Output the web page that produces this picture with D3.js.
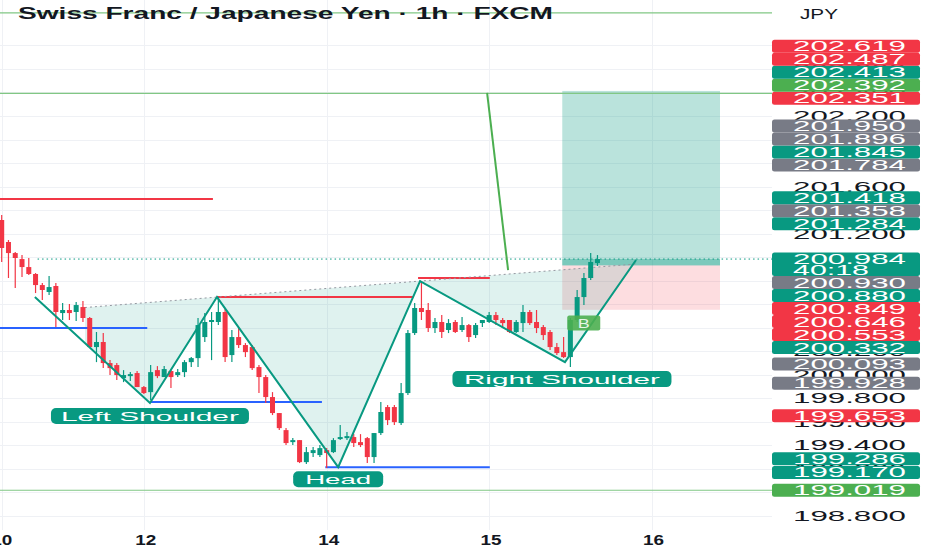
<!DOCTYPE html>
<html><head><meta charset="utf-8">
<script src="https://cdn.jsdelivr.net/npm/d3@7/dist/d3.min.js"></script>
<style>body{margin:0;background:#fff}svg{display:block}text{font-family:"Liberation Sans",Arial,sans-serif}</style>
</head><body><svg id="c" width="932" height="550"></svg>
<script>
// ---------- DATA ----------
const title = "Swiss Franc / Japanese Yen · 1h · FXCM";
const currency = "JPY";
// candles: [open, high, low, close]
const candles = [
[201.316,201.358,200.959,201.078],[201.129,201.146,200.823,201.035],[201.035,201.044,200.738,200.993],
[200.984,201.018,200.831,200.916],[200.916,200.993,200.848,200.857],[200.857,200.865,200.695,200.763],
[200.763,200.780,200.636,200.721],[200.704,200.840,200.678,200.746],[200.755,200.780,200.406,200.534],
[200.525,200.610,200.466,200.551],[200.551,200.602,200.466,200.525],[200.534,200.619,200.457,200.593],
[200.576,200.627,200.449,200.483],[200.483,200.491,200.227,200.236],[200.236,200.364,200.108,200.279],
[200.279,200.355,200.057,200.100],[200.100,200.125,199.998,200.057],[200.083,200.100,199.955,199.998],
[199.972,200.040,199.938,199.998],[199.989,200.023,199.947,200.006],[200.015,200.032,199.896,199.896],
[199.896,199.904,199.836,199.845],[199.853,200.083,199.785,200.023],[200.040,200.074,199.972,199.989],
[199.981,200.074,199.981,200.049],[200.032,200.049,199.887,199.981],[199.998,200.049,199.981,200.023],
[200.023,200.125,199.981,200.108],[200.108,200.151,200.066,200.142],[200.142,200.483,200.066,200.423],
[200.321,200.525,200.279,200.449],[200.449,200.534,200.125,200.466],[200.449,200.661,200.423,200.534],
[200.534,200.559,200.108,200.151],[200.168,200.381,200.108,200.321],[200.321,200.398,200.227,200.253],
[200.253,200.270,200.151,200.193],[200.236,200.253,200.040,200.057],[200.066,200.083,199.845,199.981],
[199.981,199.998,199.760,199.811],[199.811,199.853,199.658,199.675],[199.675,199.675,199.530,199.547],
[199.530,199.547,199.403,199.420],[199.428,199.462,199.403,199.445],[199.445,199.445,199.250,199.258],
[199.258,199.386,199.241,199.343],[199.335,199.386,199.301,199.360],[199.318,199.403,199.301,199.377],
[199.360,199.377,199.207,199.335],[199.343,199.462,199.335,199.445],[199.454,199.573,199.445,199.471],
[199.462,199.513,199.445,199.479],[199.471,199.496,199.386,199.420],[199.428,199.496,199.386,199.403],
[199.462,199.471,199.250,199.301],[199.301,199.505,199.250,199.505],[199.505,199.768,199.488,199.684],
[199.726,199.743,199.573,199.615],[199.726,199.743,199.573,199.598],[199.590,199.930,199.573,199.845],
[199.845,200.381,199.828,200.355],[200.355,200.610,200.338,200.568],[200.568,200.797,200.466,200.534],
[200.551,200.610,200.364,200.398],[200.398,200.483,200.355,200.449],[200.449,200.508,200.313,200.364],
[200.381,200.474,200.355,200.440],[200.449,200.466,200.355,200.364],[200.381,200.491,200.364,200.423],
[200.423,200.432,200.279,200.321],[200.338,200.440,200.313,200.423],[200.440,200.466,200.406,200.466],
[200.449,200.534,200.440,200.508],[200.508,200.534,200.423,200.466],[200.466,200.483,200.406,200.440],
[200.466,200.466,200.355,200.364],[200.364,200.466,200.355,200.449],[200.440,200.593,200.364,200.534],
[200.534,200.551,200.423,200.440],[200.449,200.551,200.355,200.398],[200.406,200.423,200.296,200.338],
[200.364,200.381,200.210,200.236],[200.236,200.270,200.168,200.185],[200.193,200.321,200.142,200.151],
[200.151,200.483,200.066,200.466],[200.466,200.721,200.449,200.661],[200.661,200.865,200.593,200.823],
[200.823,201.035,200.806,200.959],[200.950,201.018,200.925,200.984]
];
const xTickIdx = [0, 21, 48, 72, 96];
const xTickLabels = ["10", "12", "14", "15", "16"];
const priceTickValues = [198.8,199.0,199.2,199.4,199.6,199.8,200.0,200.2,200.4,200.6,200.8,201.0,201.2,201.4,201.6,201.8,202.0,202.2,202.4,202.6,202.8];
const currentPrice = 200.984;
const countdown = "40:18";
const badgeValues = [202.619,202.487,202.413,202.392,202.351,201.950,201.896,201.845,201.784,201.418,201.358,201.284,
                     200.930,200.880,200.849,200.646,200.553,200.332,200.093,199.928,199.653,199.286,199.170,199.019];
const badgeKinds  = ["red","red","teal","lime","red","gray","gray","teal","gray","teal","gray","teal",
                     "gray","teal","red","red","red","teal","gray","gray","red","teal","teal","lime"];
// horizontal drawn levels: [price, fromIdx, toIdx, kind]
const levelLines = [
  [203.076, -1, 113.8, "lime"], [202.392, -1, 113.8, "lime"], [199.019, -1, 113.8, "lime"],
  [201.494, -1, 31.2, "red"], [200.661, 31.8, 60.8, "red"], [200.822, 61.5, 72.1, "red"],
  [200.397, -1, 21.5, "blue"], [199.768, 21.9, 47.3, "blue"], [199.215, 47.8, 72.1, "blue"]
];
// inverse head & shoulders: start, LS, neck1, head, neck2, RS, end
const hsIdx   = [4.9, 21.9, 31.8, 49.7, 61.8, 83.2, 93.7];
const hsPrice = [200.661, 199.760, 200.661, 199.215, 200.797, 200.108, 200.976];
const necklineIdx = [12.3, 93.7];
const necklinePrice = [200.572, 200.942];
const hsLabels = ["Left Shoulder", "Head", "Right Shoulder"];
// long position
const longEntry = 200.930, longTarget = 202.413, longStop = 200.553;
const longIdx = [82.8, 106.1];
// green trend line
const trendIdx = [71.7, 74.8];
const trendPrice = [202.396, 200.890];
const bMarkIdx = 85.9, bMarkPrice = 200.440;

// ---------- DRAW ----------
const svg = d3.select("#c");
const W = 932, H = 550, plotR = 772;
const x = d3.scaleLinear().domain([0, 100]).range([1.7, 678.7]);
const y = d3.scaleLinear().domain([198.8, 202.2]).range([516, 116]);
const C = {red:"#f23645", teal:"#089981", gray:"#787b86", lime:"#4caf50", blue:"#2962ff"};

svg.append("defs").append("clipPath").attr("id","plot").append("rect")
  .attr("x",0).attr("y",0).attr("width",plotR).attr("height",H);
const g = svg.append("g").attr("clip-path","url(#plot)");

// grid
g.selectAll(".hg").data(priceTickValues).enter().append("line")
  .attr("x1",0).attr("x2",plotR).attr("y1",d=>Math.round(y(d))+0.5).attr("y2",d=>Math.round(y(d))+0.5)
  .attr("stroke","#eff1f5").attr("stroke-width",1);
g.selectAll(".vg").data(xTickIdx).enter().append("line")
  .attr("x1",d=>Math.round(x(d))+0.5).attr("x2",d=>Math.round(x(d))+0.5).attr("y1",0).attr("y2",530)
  .attr("stroke","#eff1f5").attr("stroke-width",1);

// long position boxes
const lx0 = x(longIdx[0]), lx1 = x(longIdx[1]);
g.append("rect").attr("x",lx0).attr("width",lx1-lx0).attr("y",y(longTarget)).attr("height",y(longEntry)-y(longTarget))
  .attr("fill","rgba(8,153,129,0.28)");
g.append("rect").attr("x",lx0).attr("width",lx1-lx0).attr("y",y(currentPrice)).attr("height",y(longEntry)-y(currentPrice))
  .attr("fill","rgba(8,153,129,0.35)");
g.append("rect").attr("x",lx0).attr("width",lx1-lx0).attr("y",y(longEntry)).attr("height",y(longStop)-y(longEntry))
  .attr("fill","rgba(242,54,69,0.17)");

// H&S fills
const P = i => [x(hsIdx[i]), y(hsPrice[i])];
const neckAt = idx => necklinePrice[0] + (idx-necklineIdx[0])/(necklineIdx[1]-necklineIdx[0])*(necklinePrice[1]-necklinePrice[0]);
const segAt = (i, idx) => hsPrice[i] + (idx-hsIdx[i])/(hsIdx[i+1]-hsIdx[i])*(hsPrice[i+1]-hsPrice[i]);
const fillPolys = [
  [[x(necklineIdx[0]), y(neckAt(necklineIdx[0]))], [x(necklineIdx[0]), y(segAt(0,necklineIdx[0]))], P(1), P(2)],
  [P(2), P(3), P(4)],
  [P(4), P(5), P(6), [x(necklineIdx[1]), y(necklinePrice[1])]]
];
g.selectAll(".hsf").data(fillPolys).enter().append("path")
  .attr("d", d => d3.line()(d) + "Z").attr("fill","rgba(8,153,129,0.13)");

// level lines
levelLines.forEach(([p,a,b,k]) => {
  g.append("line").attr("x1",x(a)).attr("x2",x(b)).attr("y1",y(p)).attr("y2",y(p))
   .attr("stroke", k==="lime" ? "#81c784" : C[k]).attr("stroke-width", k==="lime" ? 1.2 : 2);
});

// neckline dotted
g.append("line").attr("x1",x(necklineIdx[0])).attr("y1",y(necklinePrice[0]))
  .attr("x2",x(necklineIdx[1])).attr("y2",y(necklinePrice[1]))
  .attr("stroke","#9598a1").attr("stroke-width",1).attr("stroke-dasharray","2,3");

// current price dotted
g.append("line").attr("x1",x(5.3)).attr("x2",plotR).attr("y1",y(currentPrice)).attr("y2",y(currentPrice))
  .attr("stroke","#089981").attr("stroke-width",1).attr("stroke-dasharray","1.5,3");

// candles
const cg = g.append("g");
candles.forEach((d,i) => {
  const [o,h,l,c] = d, up = c >= o, col = up ? C.teal : C.red, cx = x(i);
  cg.append("line").attr("x1",cx).attr("x2",cx).attr("y1",y(h)).attr("y2",y(l)).attr("stroke",col).attr("stroke-width",1.2);
  const top = y(Math.max(o,c)), bot = y(Math.min(o,c));
  cg.append("rect").attr("x",cx-2.5).attr("width",5).attr("y",top).attr("height",Math.max(1.2,bot-top)).attr("fill",col);
});

// H&S polyline
g.append("path").attr("d", d3.line()(hsIdx.map((_,i)=>P(i))))
  .attr("fill","none").attr("stroke","#089981").attr("stroke-width",2).attr("stroke-linejoin","miter");

// trend line
g.append("line").attr("x1",x(trendIdx[0])).attr("y1",y(trendPrice[0])).attr("x2",x(trendIdx[1])).attr("y2",y(trendPrice[1]))
  .attr("stroke","#4caf50").attr("stroke-width",2);

// H&S labels
const labelSpecs = [
  {i:1, dy:5, w:198, tl:178}, {i:3, dy:4, w:90, tl:66}, {i:5, dy:9, w:219, tl:196}
];
labelSpecs.forEach((s,k) => {
  const [px,py] = P(s.i);
  const cx = k===2 ? px-3 : px;
  g.append("rect").attr("x",cx-s.w/2).attr("y",py+s.dy).attr("width",s.w).attr("height",16).attr("rx",5)
   .attr("fill","#089981");
  g.append("text").attr("x",cx).attr("y",py+s.dy+12.5).attr("text-anchor","middle")
   .attr("font-size",13).attr("fill","#fff").attr("textLength",s.tl).attr("lengthAdjust","spacingAndGlyphs")
   .text(hsLabels[k]);
});
// B marker
g.append("rect").attr("x",x(bMarkIdx)-16).attr("y",y(bMarkPrice)-7.5).attr("width",33).attr("height",15).attr("rx",2)
  .attr("fill","#4caf50").attr("opacity",0.9);
g.append("text").attr("x",x(bMarkIdx)+0.5).attr("y",y(bMarkPrice)+5).attr("text-anchor","middle")
  .attr("font-size",12).attr("fill","#e8f5e9").attr("textLength",12).attr("lengthAdjust","spacingAndGlyphs").text("B");

// title
svg.append("text").attr("x",18).attr("y",19).attr("font-size",16).attr("font-weight","bold").attr("fill","#131722")
  .attr("textLength",535).attr("lengthAdjust","spacingAndGlyphs").text(title);
svg.append("text").attr("x",800).attr("y",19).attr("font-size",14).attr("fill","#131722")
  .attr("textLength",38).attr("lengthAdjust","spacingAndGlyphs").text(currency);

// x axis labels
svg.selectAll(".xl").data(xTickIdx).enter().append("text")
  .attr("x",d=>x(d)+ (d===0?0:2)).attr("y",545).attr("text-anchor","middle").attr("font-size",15).attr("font-weight","bold")
  .attr("fill","#131722").attr("textLength",21).attr("lengthAdjust","spacingAndGlyphs")
  .text((d,i)=>xTickLabels[i]);

// badges with stacking
const bh = 13;
const curY = y(currentPrice);
const curTop = curY - 6.5, curBot = curY + 17;
const items = badgeValues.map((v,i)=>({v, kind:badgeKinds[i]}));
const above = items.filter(d=>d.v>currentPrice).sort((a,b)=>a.v-b.v);
const below = items.filter(d=>d.v<currentPrice).sort((a,b)=>b.v-a.v);
let lim = curTop;
above.forEach(d => { d.cy = Math.min(y(d.v), lim - bh/2); lim = d.cy - bh/2; });
lim = curBot;
below.forEach(d => { d.cy = Math.max(y(d.v), lim + bh/2); lim = d.cy + bh/2; });
const spans = [...above, ...below].map(d => [d.cy - bh/2, d.cy + bh/2]).concat([[curTop, curBot]]);

// price axis tick labels (skip those fully hidden under badges)
const ax = svg.append("g");
priceTickValues.forEach(v => {
  const ty = y(v);
  const hidden = spans.some(([a,b]) => a <= ty - 4 && b >= ty + 4) ||
                 (spans.some(([a,b]) => a <= ty - 4 && b >= ty - 1) && spans.some(([a,b]) => a <= ty + 1 && b >= ty + 4) && false);
  if (hidden) return;
  ax.append("text").attr("x",793).attr("y",ty+5).attr("font-size",14).attr("fill","#131722")
    .attr("textLength",113).attr("lengthAdjust","spacingAndGlyphs").text(d3.format(".3f")(v));
});

const drawBadge = (cy, h, kind, label, sub) => {
  ax.append("rect").attr("x",772).attr("y",cy-6.5).attr("width",148).attr("height",h).attr("rx",2.5).attr("fill",C[kind]);
  ax.append("text").attr("x",793).attr("y",cy+5).attr("font-size",14).attr("fill","#fff")
    .attr("textLength",113).attr("lengthAdjust","spacingAndGlyphs").text(label);
  if (sub) ax.append("text").attr("x",793).attr("y",cy+16).attr("font-size",14).attr("fill","#fff")
    .attr("textLength",76).attr("lengthAdjust","spacingAndGlyphs").text(sub);
};
[...above, ...below].forEach(d => drawBadge(d.cy, bh, d.kind, d3.format(".3f")(d.v)));
drawBadge(curY, curBot-curTop, "teal", d3.format(".3f")(currentPrice), countdown);
</script></body></html>
